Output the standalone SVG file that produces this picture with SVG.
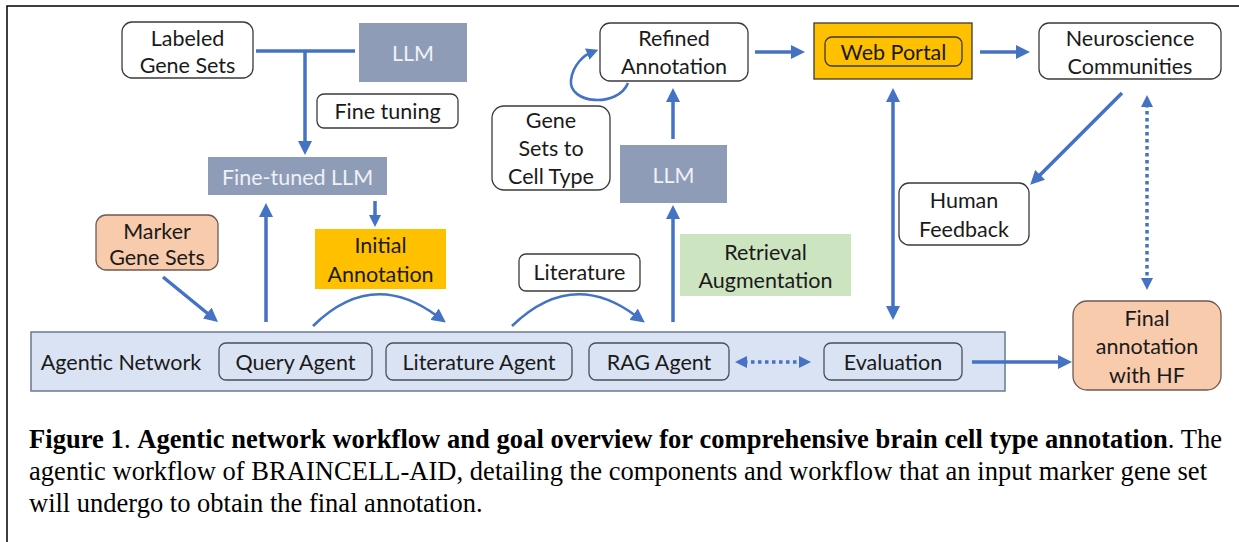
<svg xmlns="http://www.w3.org/2000/svg" width="1239" height="542" viewBox="0 0 1239 542">
<style>
  .t { font-family: Lato, "Liberation Sans", sans-serif; font-size: 21.5px; fill: #1a1a1a; text-anchor: middle; dominant-baseline: central; }
  .tl { fill: #eef1f6; }
  .box { fill: #ffffff; stroke: #3a3a3a; stroke-width: 1.3; }
  .llm { fill: #8e9cb8; }
  .peach { fill: #f8cbad; stroke: #6e5a50; stroke-width: 1.3; }
  .gold { fill: #ffc000; }
  .green { fill: #cde4c0; }
  .agent { fill: none; stroke: #4a4f58; stroke-width: 1.3; }
  .ar { fill: none; stroke: #4472c4; stroke-width: 3.5; }
  .arc { fill: none; stroke: #4472c4; stroke-width: 2.6; }
  .dot { stroke-dasharray: 3.5 3.5; }
  .cap { font-family: "Liberation Serif", "Times New Roman", serif; font-size: 26.5px; fill: #000; }
</style>
<defs>
  <marker id="ah" viewBox="0 0 14 14" markerWidth="14" markerHeight="14" refX="3" refY="7" orient="auto-start-reverse" markerUnits="userSpaceOnUse">
    <path d="M0,0 L14,7 L0,14 z" fill="#4472c4"/>
  </marker>
  <marker id="ahs" viewBox="0 0 12 12" markerWidth="12" markerHeight="12" refX="3" refY="6" orient="auto-start-reverse" markerUnits="userSpaceOnUse">
    <path d="M0,0 L12,6 L0,12 z" fill="#4472c4"/>
  </marker>
</defs>

<g id="frame">
  <path d="M7,542 V6 H1239" fill="none" stroke="#000" stroke-width="1.5"/>
</g>

<g id="agentic-network">
  <rect x="31" y="332" width="974" height="59" fill="#dae3f3" stroke="#6a7891" stroke-width="1.5"/>
  <text class="t" x="121" y="362">Agentic Network</text>
</g>
<g id="query-agent">
  <rect class="agent" x="219" y="343" width="153" height="37" rx="7"/>
  <text class="t" x="295.5" y="362">Query Agent</text>
</g>
<g id="literature-agent">
  <rect class="agent" x="386" y="343" width="186" height="37" rx="7"/>
  <text class="t" x="479" y="362">Literature Agent</text>
</g>
<g id="rag-agent">
  <rect class="agent" x="589" y="343" width="140" height="37" rx="7"/>
  <text class="t" x="659" y="362">RAG Agent</text>
</g>
<g id="evaluation">
  <rect class="agent" x="824" y="343" width="138" height="37" rx="7"/>
  <text class="t" x="893" y="362">Evaluation</text>
</g>

<g id="labeled-gene-sets">
  <rect class="box" x="122" y="22" width="131" height="56" rx="10"/>
  <text class="t" x="187.5" y="38">Labeled</text>
  <text class="t" x="187.5" y="65">Gene Sets</text>
</g>
<g id="llm-top">
  <rect class="llm" x="359" y="23" width="108" height="59"/>
  <text class="t tl" x="413" y="53">LLM</text>
</g>
<g id="fine-tuning">
  <rect class="box" x="317" y="94" width="141" height="34" rx="7"/>
  <text class="t" x="387.5" y="111">Fine tuning</text>
</g>
<g id="fine-tuned-llm">
  <rect class="llm" x="208" y="157" width="179" height="38"/>
  <text class="t tl" x="297.5" y="177">Fine-tuned LLM</text>
</g>
<g id="marker-gene-sets">
  <rect class="peach" x="96" y="215" width="122" height="55" rx="10"/>
  <text class="t" x="157" y="231">Marker</text>
  <text class="t" x="157" y="257">Gene Sets</text>
</g>
<g id="initial-annotation">
  <rect class="gold" x="315" y="229" width="131" height="60"/>
  <text class="t" x="380.5" y="245">Initial</text>
  <text class="t" x="380.5" y="274">Annotation</text>
</g>
<g id="literature">
  <rect class="box" x="519" y="254" width="121" height="37" rx="7"/>
  <text class="t" x="579.5" y="272">Literature</text>
</g>
<g id="retrieval-augmentation">
  <rect class="green" x="680" y="234" width="171" height="62"/>
  <text class="t" x="765.5" y="252">Retrieval</text>
  <text class="t" x="765.5" y="280">Augmentation</text>
</g>
<g id="llm-mid">
  <rect class="llm" x="620" y="145" width="107" height="58"/>
  <text class="t tl" x="673.5" y="175">LLM</text>
</g>
<g id="gene-sets-to-cell-type">
  <rect class="box" x="492" y="106" width="118" height="84" rx="12"/>
  <text class="t" x="551" y="120">Gene</text>
  <text class="t" x="551" y="148">Sets to</text>
  <text class="t" x="551" y="176">Cell Type</text>
</g>
<g id="refined-annotation">
  <rect class="box" x="600" y="23" width="148" height="58" rx="10"/>
  <text class="t" x="674" y="38">Refined</text>
  <text class="t" x="674" y="66">Annotation</text>
</g>
<g id="web-portal">
  <rect x="814" y="23" width="158" height="56" fill="#ffc000" stroke="#3a3a3a" stroke-width="1.3"/>
  <rect x="825" y="37" width="137" height="29" rx="7" fill="none" stroke="#3a3a3a" stroke-width="1.3"/>
  <text class="t" x="893.5" y="52">Web Portal</text>
</g>
<g id="neuroscience-communities">
  <rect class="box" x="1039" y="23" width="182" height="56" rx="10"/>
  <text class="t" x="1130" y="38">Neuroscience</text>
  <text class="t" x="1130" y="66">Communities</text>
</g>
<g id="human-feedback">
  <rect class="box" x="899" y="183" width="130" height="62" rx="10"/>
  <text class="t" x="964" y="200">Human</text>
  <text class="t" x="964" y="229">Feedback</text>
</g>
<g id="final-annotation">
  <rect class="peach" x="1073" y="301" width="148" height="89" rx="14"/>
  <text class="t" x="1147" y="318">Final</text>
  <text class="t" x="1147" y="346">annotation</text>
  <text class="t" x="1147" y="375">with HF</text>
</g>

<g id="connectors">
  <path class="ar" d="M256,51 H355"/>
  <path class="ar" d="M305,51 V144" marker-end="url(#ah)"/>
  <path class="ar" d="M375,201 V218" marker-end="url(#ahs)"/>
  <path class="ar" d="M266,322 V214" marker-end="url(#ah)"/>
  <path class="ar" d="M163,277 L209.5,315" marker-end="url(#ah)"/>
  <path class="arc" d="M313,326 Q372,268 437,316" marker-end="url(#ah)"/>
  <path class="arc" d="M512,326 Q572,268 636,316" marker-end="url(#ah)"/>
  <path class="ar" d="M673,322 V216" marker-end="url(#ah)"/>
  <path class="ar" d="M673,139 V99" marker-end="url(#ah)"/>
  <path class="arc" d="M628,83 C618,108 568,104 571,80 C573,64 585,55 590,53" marker-end="url(#ahs)"/>
  <path class="ar" d="M755,52 H794" marker-end="url(#ah)"/>
  <path class="ar" d="M980,52 H1019" marker-end="url(#ah)"/>
  <path class="ar" d="M1122,93 L1038,177" marker-end="url(#ah)"/>
  <path class="ar" d="M893,99 V309" marker-start="url(#ah)" marker-end="url(#ah)"/>
  <path class="ar dot" d="M1147,104 V281" marker-start="url(#ahs)" marker-end="url(#ahs)"/>
  <path class="ar dot" d="M744,362 H802" marker-start="url(#ahs)" marker-end="url(#ahs)"/>
  <path class="ar" d="M972,362 H1061" marker-end="url(#ah)"/>
</g>

<g id="caption">
  <text class="cap" x="29" y="448" textLength="1193" lengthAdjust="spacing"><tspan font-weight="bold">Figure 1</tspan>. <tspan font-weight="bold">Agentic network workflow and goal overview for comprehensive brain cell type annotation</tspan>. The</text>
  <text class="cap" x="29" y="480" textLength="1178" lengthAdjust="spacing">agentic workflow of BRAINCELL-AID, detailing the components and workflow that an input marker gene set</text>
  <text class="cap" x="29" y="512">will undergo to obtain the final annotation.</text>
</g>
</svg>
